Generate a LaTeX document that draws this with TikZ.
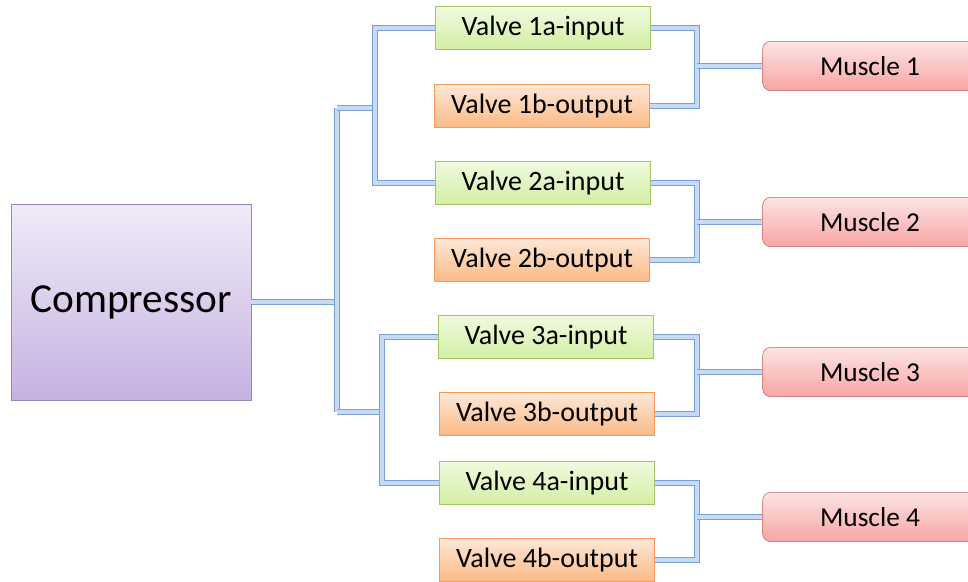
\documentclass[tikz,border=0pt]{standalone}
\usepackage{fontspec}
\setmainfont{Carlito}
\usepackage{tikz}
\usetikzlibrary{positioning, calc}
\definecolor{pipeedge}{HTML}{78A0DA}
\definecolor{pipefill}{HTML}{C6DAF5}
\definecolor{compline}{HTML}{9A84C0}
\definecolor{comptop}{HTML}{F0EBF8}
\definecolor{compbot}{HTML}{C6B2E2}
\definecolor{inline}{HTML}{A4C463}
\definecolor{intop}{HTML}{F0FADF}
\definecolor{inbot}{HTML}{D2EFA4}
\definecolor{outline}{HTML}{F79A55}
\definecolor{outtop}{HTML}{FDE8D8}
\definecolor{outbot}{HTML}{FBB984}
\definecolor{musline}{HTML}{C9605C}
\definecolor{mustop}{HTML}{FDE4E4}
\definecolor{musbot}{HTML}{F7A5A4}

\begin{document}
\begin{tikzpicture}[
  x=0.75pt, y=-0.75pt,
  every node/.style={font=\fontsize{21}{25}\selectfont},
  comp/.style={draw=compline, top color=comptop, bottom color=compbot,
    minimum width=180pt, minimum height=147pt, font=\fontsize{31}{37}\selectfont},
  vin/.style={draw=inline, top color=intop, bottom color=inbot,
    minimum width=161pt, minimum height=32.5pt},
  vout/.style={draw=outline, top color=outtop, bottom color=outbot,
    minimum width=161pt, minimum height=32.5pt},
  muscle/.style={draw=musline, rounded corners=6pt, top color=mustop, bottom color=musbot,
    minimum width=161pt, minimum height=37pt, font=\fontsize{20.5}{25}\selectfont},
  pipe/.style={draw=pipeedge, double=pipefill, line width=1.3pt, double distance=2.6pt}
]
  \useasboundingbox (0,0) rectangle (968,582);

  % Nodes
  \node[comp] (comp) at (131,302) {Compressor};

  \node[vin]  (v1a) at (543,28)  {Valve 1a-input};
  \node[vout] (v1b) at (542,106) {Valve 1b-output};
  \node[vin]  (v2a) at (543,183) {Valve 2a-input};
  \node[vout] (v2b) at (542,260) {Valve 2b-output};
  \node[vin]  (v3a) at (546,337) {Valve 3a-input};
  \node[vout] (v3b) at (547,414) {Valve 3b-output};
  \node[vin]  (v4a) at (547,483) {Valve 4a-input};
  \node[vout] (v4b) at (547,560) {Valve 4b-output};

  \node[muscle] (m1) at (870,66)  {Muscle 1};
  \node[muscle] (m2) at (870,222) {Muscle 2};
  \node[muscle] (m3) at (870,372) {Muscle 3};
  \node[muscle] (m4) at (870,517) {Muscle 4};

  % Junctions
  \coordinate (jc) at (337,302);
  \coordinate (ja) at (337,108);
  \coordinate (jb) at (337,412);
  \coordinate (bus12) at (375,108);
  \coordinate (bus34) at (382,412);
  \coordinate (mb1) at (697,66);
  \coordinate (mb2) at (697,222);
  \coordinate (mb3) at (697,372);
  \coordinate (mb4) at (697,517);

  % Pipes, compressor side
  \draw[pipe] (comp.east) -- (jc);
  \draw[pipe] (ja) -- (jb);
  \draw[pipe] (ja) -- (bus12);
  \draw[pipe] (jb) -- (bus34);
  \draw[pipe] (v1a.west) -| (bus12) |- (v2a.west);
  \draw[pipe] (v3a.west) -| (bus34) |- (v4a.west);

  % Pipes, muscle side
  \draw[pipe] (v1a.east) -| (mb1) |- (v1b.east);
  \draw[pipe] (v2a.east) -| (mb2) |- (v2b.east);
  \draw[pipe] (v3a.east) -| (mb3) |- (v3b.east);
  \draw[pipe] (v4a.east) -| (mb4) |- (v4b.east);
  \draw[pipe] (mb1) -- (m1);
  \draw[pipe] (mb2) -- (m2);
  \draw[pipe] (mb3) -- (m3);
  \draw[pipe] (mb4) -- (m4);
\end{tikzpicture}
\end{document}
